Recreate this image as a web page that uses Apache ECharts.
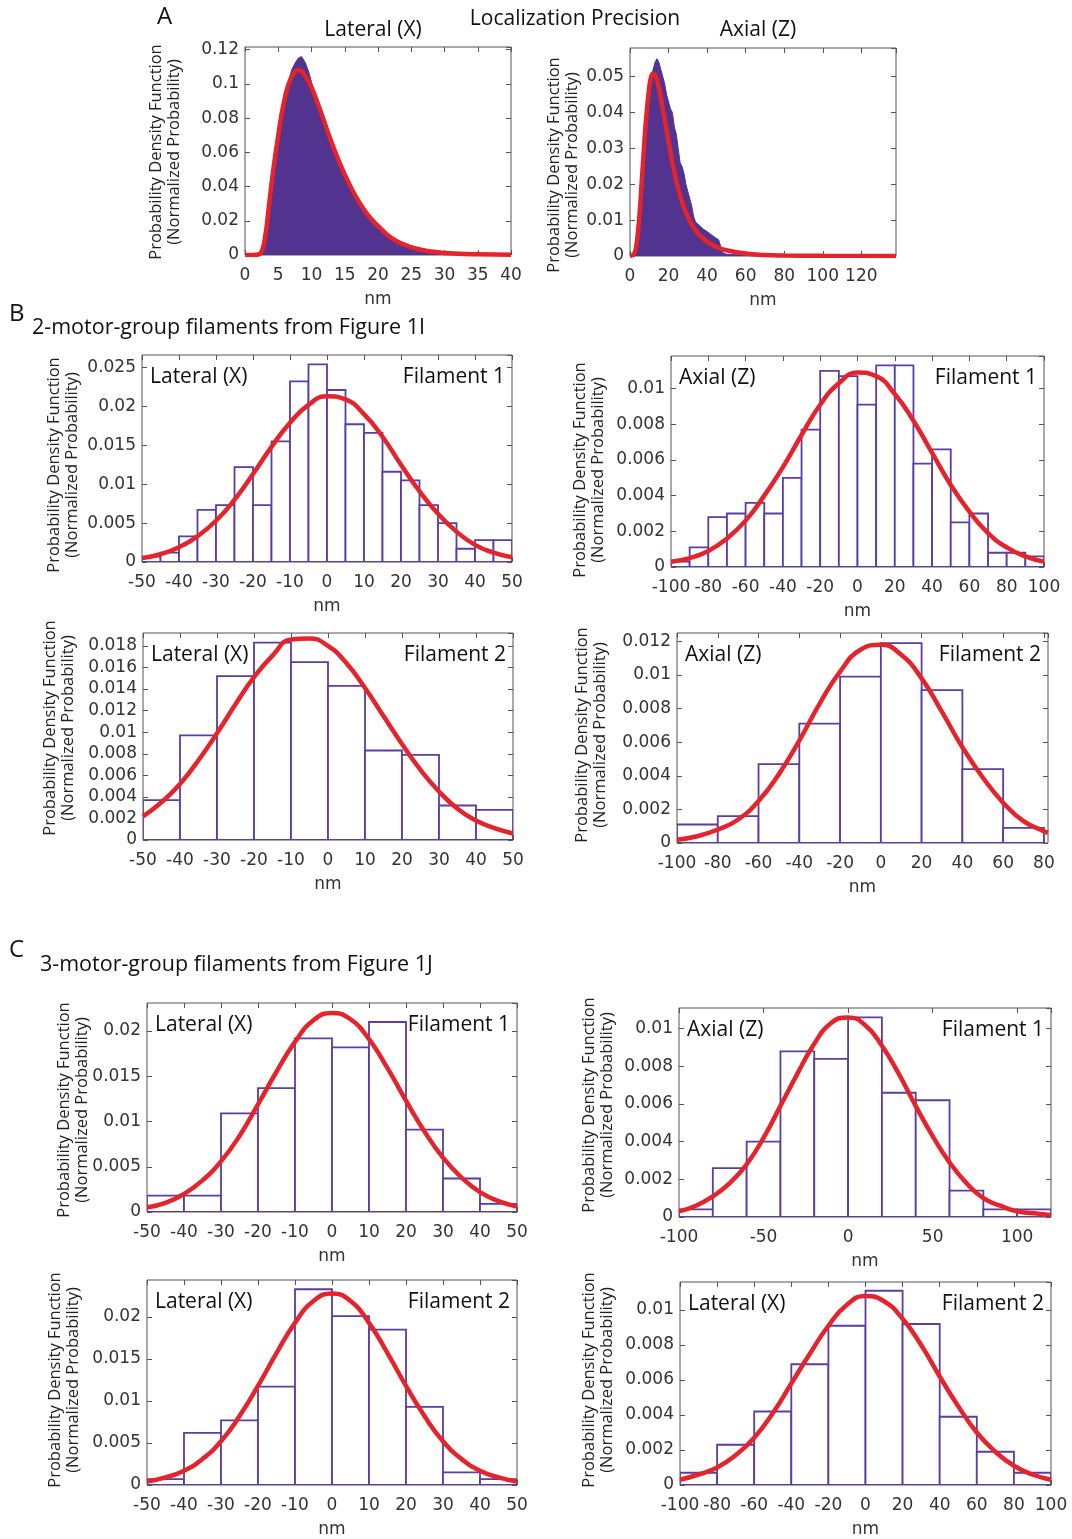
<!DOCTYPE html>
<html>
<head>
<meta charset="utf-8">
<script src="https://cdn.jsdelivr.net/npm/echarts@6/dist/echarts.min.js"></script>
<style>
html,body{margin:0;padding:0;background:#fff;}
#c{width:1072px;height:1539px;}
</style>
</head>
<body>
<div id="c"></div>
<script>
// ---------------- DATA ----------------
// Panel A, Lateral (X): dense histogram envelope and fit
const aLatHistX = [0,1,2,2.5,3,3.5,4,4.5,5,5.5,6,6.5,7,7.5,8,8.5,9,9.5,10,10.5,11,11.5,12,13,14,15,16,17,18,19,20,21,22,23,24,25,26,28,30,33,36,40];
const aLatHistY = [0,0,0.0005,0.003,0.012,0.027,0.044,0.058,0.071,0.083,0.093,0.101,0.108,0.112,0.115,0.116,0.113,0.108,0.101,0.095,0.089,0.083,0.077,0.066,0.056,0.047,0.039,0.032,0.026,0.021,0.017,0.013,0.010,0.008,0.006,0.0045,0.0035,0.002,0.0012,0.0006,0.0003,0.0001];
const aLatFitX = [0,1,2,2.5,3,3.5,4,5,6,7,8,8.5,9,10,11,12,13,14,15,16,17,18,19,20,22,24,26,28,30,35,40];
const aLatFitY = [0,0,0.0003,0.002,0.010,0.025,0.042,0.070,0.092,0.104,0.108,0.1075,0.105,0.098,0.088,0.077,0.066,0.056,0.047,0.039,0.032,0.026,0.021,0.017,0.010,0.006,0.0035,0.002,0.0012,0.0004,0.0001];
// Panel A, Axial (Z)
const aAxHistX = [0,2,3,4,5,6,7,8,9,10,11,12,13,14,15,16,17,18,19,20,21,22,23,24,25,26,27,28,29,30,31,32,33,34,35,36,38,40,42,44,46,47,48,50,60,80,138];
const aAxHistY = [0,0,0.002,0.006,0.012,0.020,0.028,0.036,0.042,0.047,0.050,0.052,0.054,0.055,0.054,0.052,0.050,0.048,0.045,0.043,0.041,0.040,0.036,0.034,0.030,0.026,0.025,0.023,0.020,0.018,0.016,0.014,0.011,0.0095,0.009,0.0085,0.0075,0.0068,0.0060,0.0052,0.0045,0.004,0.001,0.0005,0.0002,0.0001,0];
const aAxFitX = [0,2,3,4,5,6,7,8,9,10,11,12,13,14,15,16,18,20,22,24,26,28,30,32,35,40,45,50,60,70,80,100,138];
const aAxFitY = [0,0.0005,0.002,0.006,0.012,0.020,0.028,0.036,0.042,0.047,0.050,0.0508,0.0505,0.049,0.047,0.044,0.038,0.032,0.026,0.021,0.017,0.0135,0.011,0.0088,0.0065,0.0040,0.0025,0.0016,0.0007,0.0003,0.00015,0.00005,0];

// Shared fit sample positions
const lat5 = [-50,-45,-40,-35,-30,-25,-20,-15,-10,-5,0,5,10,15,20,25,30,35,40,45,50];
const ax10 = [-100,-90,-80,-70,-60,-50,-40,-30,-20,-10,0,10,20,30,40,50,60,70,80,90,100];

// Panel B, Lateral (X) Filament 1 : bins of 5 nm from -50
const b1Hist = [0.0007,0.0012,0.0033,0.0067,0.0073,0.0122,0.0073,0.0155,0.0232,0.0254,0.0221,0.0177,0.0166,0.0116,0.0105,0.0073,0.0050,0.0017,0.0028,0.0028];
const b1Fit = [0.0005,0.0010,0.0019,0.0033,0.0053,0.0080,0.0113,0.0148,0.0179,0.0202,0.0213,0.0209,0.0190,0.0161,0.0125,0.0091,0.0062,0.0039,0.0022,0.0012,0.0006];
// Panel B, Axial (Z) Filament 1 : bins of 10 nm from -100
const b2Hist = [0.0003,0.0011,0.0028,0.0030,0.0036,0.0030,0.0050,0.0077,0.0110,0.0107,0.0091,0.0113,0.0113,0.0058,0.0066,0.0025,0.0030,0.0008,0.0008,0.0006];
const b2Fit = [0.0003,0.0005,0.0009,0.0016,0.0026,0.0040,0.0056,0.0074,0.0091,0.0103,0.0109,0.0107,0.0097,0.0082,0.0064,0.0046,0.0031,0.0019,0.0011,0.0006,0.0003];
// Panel B, Lateral (X) Filament 2 : bins of 10 nm from -50
const b3Hist = [0.0037,0.0097,0.0152,0.0183,0.0165,0.0143,0.0083,0.0079,0.0032,0.0028];
const b3Fit = [0.0022,0.0035,0.0052,0.0074,0.0099,0.0126,0.0151,0.0171,0.0186,0.0187,0.0180,0.0164,0.0141,0.0115,0.0089,0.0065,0.0045,0.0029,0.0018,0.0011,0.0006];
// Panel B, Axial (Z) Filament 2 : bins of 20 nm from -100
const b4Hist = [0.0011,0.0016,0.0047,0.0071,0.0099,0.0119,0.0091,0.0044,0.0009];
const b4FitX = [-100,-90,-80,-70,-60,-50,-40,-30,-20,-10,0,10,20,30,40,50,60,70,80,82];
const b4Fit = [0.0002,0.0004,0.0008,0.0014,0.0025,0.0041,0.0061,0.0083,0.0102,0.0115,0.0118,0.0112,0.0098,0.0078,0.0057,0.0039,0.0024,0.0013,0.0007,0.0006];
// Panel C, Lateral (X) Filament 1 : bins of 10 nm from -50
const c1Hist = [0.0018,0.0018,0.0109,0.0137,0.0192,0.0182,0.0210,0.0091,0.0037,0.0009];
const c1Fit = [0.0005,0.0010,0.0020,0.0035,0.0056,0.0084,0.0119,0.0155,0.0188,0.0212,0.0220,0.0213,0.0191,0.0159,0.0123,0.0089,0.0060,0.0038,0.0022,0.0012,0.0006];
// Panel C, Axial (Z) Filament 1 : bins of 20 nm from -100
const c2Hist = [0.0004,0.0026,0.0040,0.0088,0.0084,0.0106,0.0066,0.0062,0.0014,0.0004,0.0004];
const c2FitX = [-100,-90,-80,-70,-60,-50,-40,-30,-20,-10,0,10,20,30,40,50,60,70,80,90,100,110,120];
const c2Fit = [0.0003,0.0006,0.0011,0.0018,0.0028,0.0042,0.0059,0.0076,0.0092,0.0103,0.0106,0.0102,0.0091,0.0076,0.0059,0.0043,0.0029,0.0018,0.0010,0.0006,0.0003,0.0002,0.0001];
// Panel C, Lateral (X) Filament 2 (left) : bins of 10 nm from -50
const c3Hist = [0.0007,0.0062,0.0077,0.0117,0.0233,0.0201,0.0185,0.0093,0.0015,0.0007];
const c3Fit = [0.0004,0.0009,0.0017,0.0031,0.0052,0.0082,0.0118,0.0157,0.0193,0.0219,0.0228,0.0219,0.0193,0.0157,0.0118,0.0082,0.0052,0.0031,0.0017,0.0009,0.0004];
// Panel C, Lateral (X) Filament 2 (right) : bins of 20 nm from -100
const c4Hist = [0.0007,0.0023,0.0042,0.0069,0.0091,0.0111,0.0092,0.0039,0.0019,0.0007];
const c4Fit = [0.0003,0.0006,0.0010,0.0017,0.0027,0.0041,0.0058,0.0075,0.0091,0.0103,0.0108,0.0105,0.0095,0.0080,0.0062,0.0045,0.0030,0.0019,0.0011,0.0006,0.0003];

// ---------------- LAYOUT ----------------
const PURPLE = '#5A3DA5';
const FILLP = '#52338F';
const RED = '#E5232A';
const TICKFONT = 'DejaVu Sans';
const TXTFONT = 'Open Sans';

const panels = [
  {L:245,T:47,W:266,H:208, xmin:0,xmax:40,xint:5, ymax:0.1216,yint:0.02, area:true, hx:aLatHistX, hy:aLatHistY, fx:aLatFitX, fy:aLatFitY, yl:[165,152]},
  {L:630,T:48,W:266,H:208, xmin:0,xmax:138,xint:20, ymax:0.058,yint:0.01, area:true, hx:aAxHistX, hy:aAxHistY, fx:aAxFitX, fy:aAxFitY, yl:[563,165]},
  {L:142,T:355,W:370,H:207, xmin:-50,xmax:50,xint:10, ymax:0.0266,yint:0.005, bs:-50,bw:5, hist:b1Hist, fx:lat5, fy:b1Fit, yl:[63,465], t1:'Lateral (X)', t2:'Filament 1'},
  {L:671,T:356,W:373,H:211, xmin:-100,xmax:100,xint:20, ymax:0.01183,yint:0.002, bs:-100,bw:10, hist:b2Hist, fx:ax10, fy:b2Fit, yl:[589,470], t1:'Axial (Z)', t2:'Filament 1'},
  {L:143,T:633,W:370,H:207, xmin:-50,xmax:50,xint:10, ymax:0.0192,yint:0.002, bs:-50,bw:10, hist:b3Hist, fx:lat5, fy:b3Fit, yl:[59,728], t1:'Lateral (X)', t2:'Filament 2'},
  {L:677,T:633,W:371,H:210, xmin:-100,xmax:82,xint:20, ymax:0.0125,yint:0.002, bs:-100,bw:20, hist:b4Hist, fx:b4FitX, fy:b4Fit, yl:[591,735], t1:'Axial (Z)', t2:'Filament 2'},
  {L:147,T:1003,W:370,H:209, xmin:-50,xmax:50,xint:10, ymax:0.0231,yint:0.005, bs:-50,bw:10, hist:c1Hist, fx:lat5, fy:c1Fit, yl:[73,1110], t1:'Lateral (X)', t2:'Filament 1'},
  {L:679,T:1008,W:372,H:209, xmin:-100,xmax:120,xint:50, ymax:0.0111,yint:0.002, bs:-100,bw:20, hist:c2Hist, fx:c2FitX, fy:c2Fit, yl:[598,1105], t1:'Axial (Z)', t2:'Filament 1'},
  {L:147,T:1280,W:370,H:207, xmin:-50,xmax:50,xint:10, ymax:0.0244,yint:0.005, bs:-50,bw:10, hist:c3Hist, fx:lat5, fy:c3Fit, yl:[64,1380], t1:'Lateral (X)', t2:'Filament 2'},
  {L:680,T:1282,W:371,H:207, xmin:-100,xmax:100,xint:20, ymax:0.0116,yint:0.002, bs:-100,bw:20, hist:c4Hist, fx:ax10, fy:c4Fit, yl:[598,1380], t1:'Lateral (X)', t2:'Filament 2'}
];

const grid = [], xAxis = [], yAxis = [], series = [], graphic = [];

function isMult(v, s){ return Math.abs(v/s - Math.round(v/s)) < 1e-6; }

panels.forEach((p, i) => {
  grid.push({left:p.L, top:p.T, width:p.W, height:p.H, show:true, borderColor:'#555', borderWidth:1, backgroundColor:'transparent'});
  const tick = {show:true, inside:true, length:5, lineStyle:{color:'#555', width:1}};
  const line = {show:false, onZero:false};
  xAxis.push({type:'value', gridIndex:i, min:p.xmin, max:p.xmax, interval:p.xint, position:'bottom',
    axisLine:line, axisTick:tick, splitLine:{show:false},
    axisLabel:{fontFamily:TICKFONT, fontSize:17, color:'#333', margin:12, showMaxLabel:isMult(p.xmax,p.xint), showMinLabel:true},
    name:'nm', nameLocation:'middle', nameGap:36, nameTextStyle:{fontFamily:TICKFONT, fontSize:17, color:'#333'}});
  xAxis.push({type:'value', gridIndex:i, min:p.xmin, max:p.xmax, interval:p.xint, position:'top',
    axisLine:line, axisTick:tick, splitLine:{show:false}, axisLabel:{show:false}});
  yAxis.push({type:'value', gridIndex:i, min:0, max:p.ymax, interval:p.yint, position:'left',
    axisLine:line, axisTick:tick, splitLine:{show:false},
    axisLabel:{fontFamily:TICKFONT, fontSize:17, color:'#333', margin:6, showMaxLabel:isMult(p.ymax,p.yint)}});
  yAxis.push({type:'value', gridIndex:i, min:0, max:p.ymax, interval:p.yint, position:'right',
    axisLine:line, axisTick:tick, splitLine:{show:false}, axisLabel:{show:false}});

  if (p.area) {
    series.push({type:'line', xAxisIndex:2*i, yAxisIndex:2*i, data:p.hx.map((x,k)=>[x,p.hy[k]]),
      symbol:'none', smooth:false, lineStyle:{color:FILLP, width:1}, areaStyle:{color:FILLP, opacity:1}, z:2, silent:true});
  } else {
    const bins = p.hist.map((v,k)=>[p.bs + k*p.bw, p.bs + (k+1)*p.bw, v]);
    series.push({type:'custom', xAxisIndex:2*i, yAxisIndex:2*i, data:bins, encode:{x:[0,1], y:2}, z:2, silent:true, clip:true,
      renderItem:(params, api)=>{
        const a = api.coord([api.value(0), api.value(2)]);
        const b = api.coord([api.value(1), 0]);
        return {type:'rect', shape:{x:a[0], y:a[1], width:b[0]-a[0], height:b[1]-a[1]},
          style:{fill:'#fff', stroke:PURPLE, lineWidth:1.8}};
      }});
  }
  series.push({type:'line', xAxisIndex:2*i, yAxisIndex:2*i, data:p.fx.map((x,k)=>[x,p.fy[k]]),
    symbol:'none', smooth:true, lineStyle:{color:RED, width:4.5}, z:5, silent:true});

  // y-axis label (two lines, rotated)
  graphic.push({type:'text', x:p.yl[0], y:p.yl[1], rotation:Math.PI/2,
    style:{text:'Probability Density Function\n(Normalized Probability)', fontFamily:TXTFONT, fontSize:16.5, lineHeight:18,
      fill:'#222', align:'center', verticalAlign:'middle'}});
  if (p.t1) {
    graphic.push({type:'text', x:p.L+8, y:p.T+22, style:{text:p.t1, fontFamily:TXTFONT, fontSize:21, fill:'#111', align:'left', verticalAlign:'middle'}, z:10});
    graphic.push({type:'text', x:p.L+p.W-7, y:p.T+22, style:{text:p.t2, fontFamily:TXTFONT, fontSize:21, fill:'#111', align:'right', verticalAlign:'middle'}, z:10});
  }
});

// Headline texts
const heads = [
  {t:'A', x:157, y:17, s:24, a:'left'},
  {t:'Localization Precision', x:575, y:19, s:21, a:'center'},
  {t:'Lateral (X)', x:373, y:30, s:21, a:'center'},
  {t:'Axial (Z)', x:758, y:30, s:21, a:'center'},
  {t:'B', x:9, y:314, s:24, a:'left'},
  {t:'2-motor-group filaments from Figure 1I', x:32, y:328, s:21.5, a:'left'},
  {t:'C', x:9, y:950, s:24, a:'left'},
  {t:'3-motor-group filaments from Figure 1J', x:40, y:965, s:21.5, a:'left'}
];
heads.forEach(h => graphic.push({type:'text', x:h.x, y:h.y,
  style:{text:h.t, fontFamily:TXTFONT, fontSize:h.s, fill:'#111', align:h.a, verticalAlign:'middle'}}));

const chart = echarts.init(document.getElementById('c'), null, {renderer:'canvas'});
chart.setOption({animation:false, backgroundColor:'#fff', grid, xAxis, yAxis, series, graphic});
</script>
</body>
</html>
